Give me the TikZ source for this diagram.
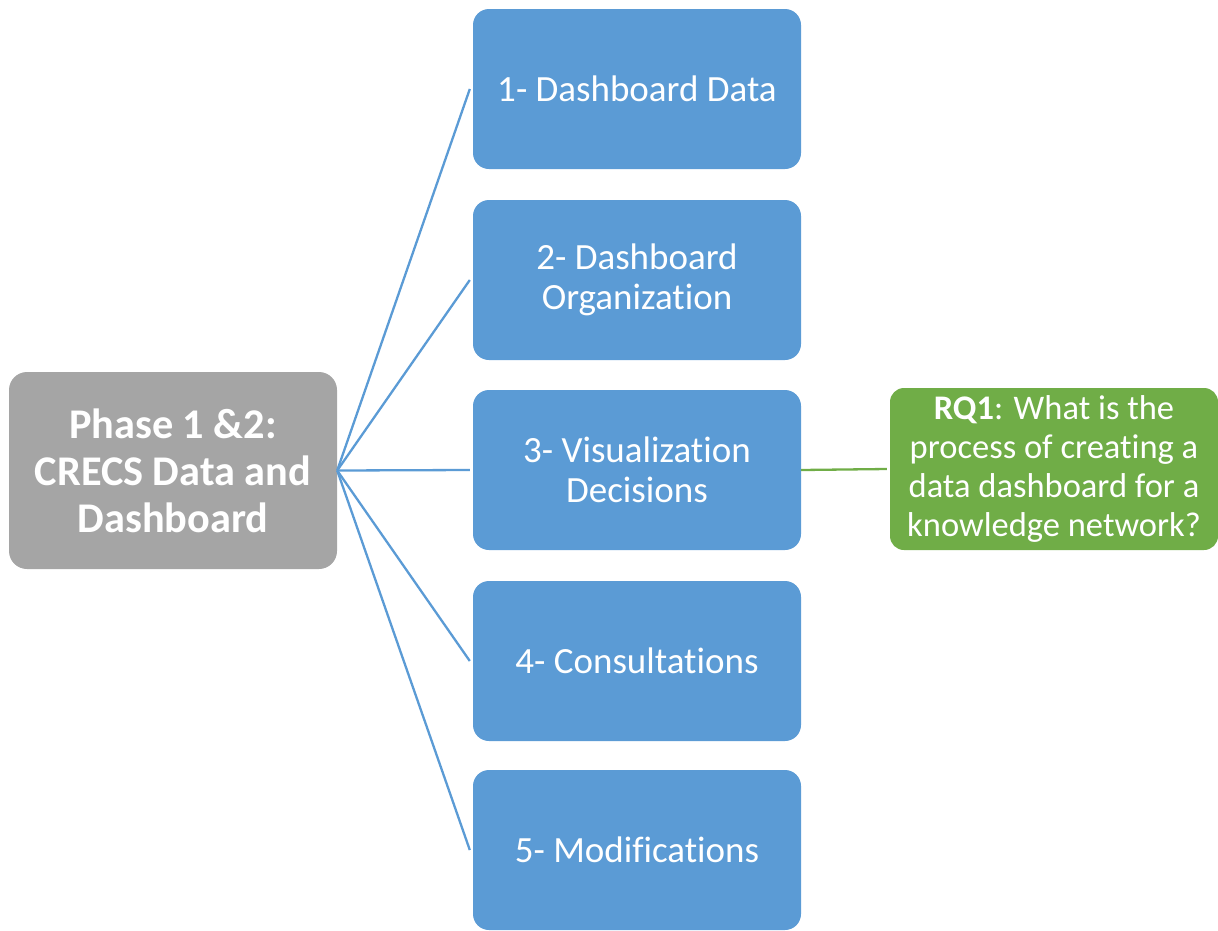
\documentclass[tikz,border=0pt]{standalone}
\usepackage{fontspec}
\setmainfont{Carlito}[Ligatures=NoCommon]
\definecolor{stepblue}{HTML}{5B9BD5}
\definecolor{rootgray}{HTML}{A5A5A5}
\definecolor{rqgreen}{HTML}{70AD47}
\begin{document}
\begin{tikzpicture}[x=1pt,y=-1pt,
  stepbox/.style={fill=stepblue, draw=none, rounded corners=16pt,
    minimum width=328pt, minimum height=160pt, text=white, align=center,
    font=\fontsize{37}{40}\selectfont, inner sep=0pt},
  rootbox/.style={fill=rootgray, draw=none, rounded corners=18pt,
    minimum width=328pt, minimum height=197pt, text=white, align=center,
    font=\fontsize{42.3}{47}\selectfont\bfseries, inner sep=0pt},
  rqbox/.style={fill=rqgreen, draw=none, rounded corners=14pt,
    minimum width=328pt, minimum height=162pt, text=white, align=center,
    font=\fontsize{34.5}{38.7}\selectfont, inner sep=0pt},
  branch/.style={draw=stepblue, line width=2.3pt},
  link/.style={draw=rqgreen, line width=2.3pt}]
\useasboundingbox (0,0) rectangle (1218,930);

% Phase node
\node[rootbox] (root) at (173,470.5) {Phase 1 \&2:\\CRECS Data and\\Dashboard};

% Step nodes
\node[stepbox] (s1) at (637,89)  {1- Dashboard Data};
\node[stepbox] (s2) at (637,280) {2- Dashboard\\Organization};
\node[stepbox] (s3) at (637,470) {3- Visualization\\Decisions};
\node[stepbox] (s4) at (637,661) {4- Consultations};
\node[stepbox] (s5) at (637,850) {5- Modifications};

% Research question
\node[rqbox] (rq) at (1054,469) {\textbf{RQ1}: What is the\\process of creating a\\data dashboard for a\\knowledge network?};

% Branches from the phase node to each step
\foreach \s in {s1,s2,s3,s4,s5}
  \draw[branch] (root.east) -- ([xshift=-3pt]\s.west);

% Link from step 3 to the research question
\draw[link] (s3.east) -- ([xshift=-3pt]rq.west);
\end{tikzpicture}
\end{document}
